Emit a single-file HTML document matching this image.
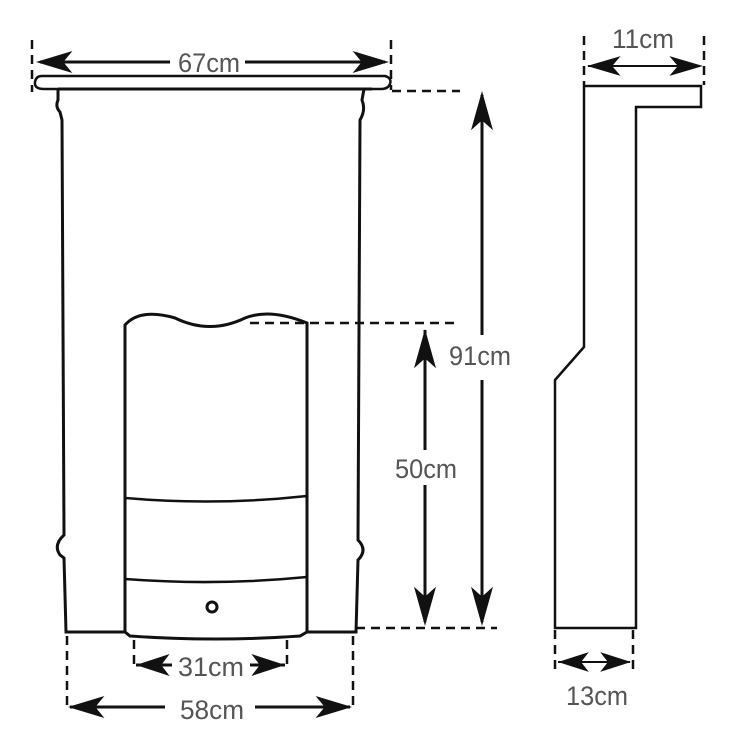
<!DOCTYPE html>
<html><head><style>body{margin:0;background:#fff}svg{display:block}</style></head><body>
<svg width="750" height="750" viewBox="0 0 750 750" xmlns="http://www.w3.org/2000/svg">
<defs>
<path id="ah" d="M0 0 L28 -11 L21 0 L28 11 Z" fill="#111"/>
</defs>
<g fill="none" stroke="#111" stroke-width="3">
<path d="M42 76 L385 76 Q392 78 390 84 Q388 89 381 89 L44 89 Q34 89 35 82 Q36 76 42 76 Z" stroke-width="2.5"/>
<line x1="58" y1="89" x2="372" y2="89"/>
<path d="M58 89 L58 100 Q55 107 60 112 L62 120 L64 535 Q53 545 60 555 L64 558 L66 632 L125 632 L130 636 Q215 642 300 636 L307 632 L356 632 L358 560 Q368 550 358 540 L360 120 Q366 110 362 100 L364 89"/>
<path d="M125 632 L125 325 Q140 308 175 318 Q210 335 245 318 Q270 308 307 323 L307 632"/>
<path d="M125 498 Q215 506 307 496" stroke-width="2.5"/>
<path d="M125 579 Q215 586 307 577" stroke-width="2.5"/>
<circle cx="212" cy="607" r="5" stroke-width="3"/>
<path d="M584 347 L584 86 L701 86 L701 107 L636 107 L636 628 L555 628 L555 380 Z" stroke-width="2.5" stroke-linejoin="miter"/>
</g>
<g stroke="#111" stroke-width="2.5" stroke-dasharray="9,6" fill="none">
<line x1="32" y1="40" x2="32" y2="92"/>
<line x1="391" y1="40" x2="391" y2="90"/>
<line x1="392" y1="91" x2="460" y2="91"/>
<line x1="250" y1="323" x2="455" y2="323"/>
<line x1="356" y1="628" x2="497" y2="628"/>
<line x1="67" y1="636" x2="67" y2="710"/>
<line x1="353" y1="636" x2="353" y2="710"/>
<line x1="134" y1="640" x2="134" y2="668"/>
<line x1="287" y1="640" x2="287" y2="668"/>
<line x1="584" y1="36" x2="584" y2="85"/>
<line x1="704" y1="36" x2="704" y2="85"/>
<line x1="555" y1="630" x2="555" y2="670"/>
<line x1="633" y1="630" x2="633" y2="670"/>
</g>
<g stroke="#111" stroke-width="3">
<line x1="40" y1="62" x2="170" y2="62"/><line x1="245" y1="62" x2="385" y2="62"/>
<line x1="482" y1="95" x2="482" y2="335"/><line x1="482" y1="380" x2="482" y2="622"/>
<line x1="425" y1="330" x2="425" y2="450"/><line x1="425" y1="485" x2="425" y2="622"/>
<line x1="136" y1="665" x2="172" y2="665"/><line x1="250" y1="665" x2="285" y2="665"/>
<line x1="70" y1="707" x2="165" y2="707"/><line x1="255" y1="707" x2="350" y2="707"/>
<line x1="588" y1="66" x2="700" y2="66" stroke-width="2"/>
<line x1="558" y1="662" x2="630" y2="662" stroke-width="2"/>
</g>
<use href="#ah" transform="translate(36,62) scale(1.3,1)"/>
<use href="#ah" transform="translate(389,62) rotate(180) scale(1.3,1)"/>
<use href="#ah" transform="translate(482,91) rotate(90) scale(1.4,1)"/>
<use href="#ah" transform="translate(482,626) rotate(-90) scale(1.4,1)"/>
<use href="#ah" transform="translate(425,329) rotate(90) scale(1.4,1)"/>
<use href="#ah" transform="translate(425,626) rotate(-90) scale(1.4,1)"/>
<use href="#ah" transform="translate(136,665) scale(1.2,1)"/>
<use href="#ah" transform="translate(285,665) rotate(180) scale(1.2,1)"/>
<use href="#ah" transform="translate(68,707) scale(1.3,1)"/>
<use href="#ah" transform="translate(352,707) rotate(180) scale(1.3,1)"/>
<use href="#ah" transform="translate(587,66) scale(1.2,0.9)"/>
<use href="#ah" transform="translate(703,66) rotate(180) scale(1.2,0.9)"/>
<use href="#ah" transform="translate(558,662) scale(1.1,0.9)"/>
<use href="#ah" transform="translate(631,662) rotate(180) scale(1.1,0.9)"/>
<g font-family="Liberation Sans, sans-serif" font-size="27" fill="#555">
<text x="178" y="72" textLength="62" lengthAdjust="spacingAndGlyphs">67cm</text>
<text x="449" y="365" textLength="62" lengthAdjust="spacingAndGlyphs">91cm</text>
<text x="395" y="478" textLength="62" lengthAdjust="spacingAndGlyphs">50cm</text>
<text x="178" y="676" textLength="66" lengthAdjust="spacingAndGlyphs">31cm</text>
<text x="180" y="719" textLength="64" lengthAdjust="spacingAndGlyphs">58cm</text>
<text x="612" y="48" textLength="62" lengthAdjust="spacingAndGlyphs">11cm</text>
<text x="566" y="705" textLength="62" lengthAdjust="spacingAndGlyphs">13cm</text>
</g>
</svg>
</body></html>
